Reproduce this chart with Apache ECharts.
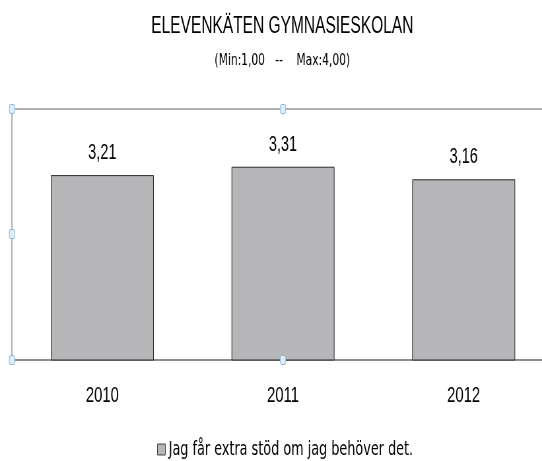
<!DOCTYPE html>
<html>
<head>
<meta charset="utf-8">
<script src="https://cdn.jsdelivr.net/npm/echarts@6/dist/echarts.min.js"></script>
<style>
  html, body { margin: 0; padding: 0; background: #fff; overflow: hidden; width: 542px; height: 461px; }
  /* the original picture is horizontally squeezed (and cut on the right), so draw wide and squeeze it too */
  #chart { width: 860px; height: 461px; transform: scaleX(0.66017); transform-origin: 0 0; }
</style>
</head>
<body>
<div id="chart"></div>
<script>
const years = ['2010', '2011', '2012'];
const values = [3.21, 3.31, 3.16];
const seriesName = 'Jag får extra stöd om jag behöver det.';
const titleText = 'ELEVENKÄTEN GYMNASIESKOLAN';
const subText = '(Min:1,00   --    Max:4,00)';

const SX = 0.66017; // horizontal squeeze
const NARROW = '"Liberation Sans Narrow", "Liberation Sans", sans-serif';
const WIDE = '"DejaVu Sans", sans-serif';

const chart = echarts.init(document.getElementById('chart'));

// Excel-style selection handles round the plot area
const handle = (x, y) => ({
  type: 'rect',
  shape: { x: x / SX - 4, y: y - 4.5, width: 8, height: 9, r: 2 },
  style: { fill: '#dcedfb', stroke: '#8db4d8', lineWidth: 1 },
  z: 100
});

chart.setOption({
  backgroundColor: '#fff',
  title: {
    text: titleText,
    subtext: subText,
    left: 279 / SX,
    textAlign: 'center',
    top: 10,
    itemGap: 14,
    textStyle: { fontFamily: NARROW, fontSize: 23.5, fontWeight: 'normal', color: '#000' },
    subtextStyle: { fontFamily: WIDE, fontSize: 16.2, color: '#000' }
  },
  legend: {
    top: 435,
    left: 233,
    icon: 'rect',
    itemWidth: 12,
    itemHeight: 11,
    textStyle: { fontFamily: WIDE, fontSize: 19.4, color: '#000' },
    itemStyle: { borderColor: '#444', borderWidth: 1 }
  },
  grid: { left: 12 / SX, right: 860 - 12 / SX - 821, top: 109, bottom: 101, containLabel: false },
  xAxis: {
    type: 'category',
    data: years,
    axisLine: { lineStyle: { color: '#8c8c8c', width: 2 } },
    axisTick: { show: false },
    axisLabel: { fontFamily: NARROW, fontSize: 22.5, color: '#000', margin: 24 }
  },
  yAxis: {
    type: 'value',
    min: 1,
    max: 4,
    interval: 3,
    axisLine: { show: true, lineStyle: { color: '#b3b3b3', width: 2 } },
    axisTick: { show: false },
    axisLabel: { show: false },
    splitLine: { lineStyle: { color: '#b0b0b0', width: 2 } }
  },
  series: [{
    name: seriesName,
    type: 'bar',
    data: values,
    barCategoryGap: '43%',
    itemStyle: { color: '#b6b6b9', borderColor: '#2a2a2a', borderWidth: 1 },
    label: {
      show: true,
      position: 'top',
      distance: 11,
      fontFamily: NARROW,
      fontSize: 22,
      color: '#000',
      formatter: p => p.value.toFixed(2).replace('.', ',')
    }
  }],
  graphic: [
    handle(12, 109), handle(283, 109), handle(12, 234),
    handle(12, 360), handle(283, 360)
  ]
});
</script>
</body>
</html>
